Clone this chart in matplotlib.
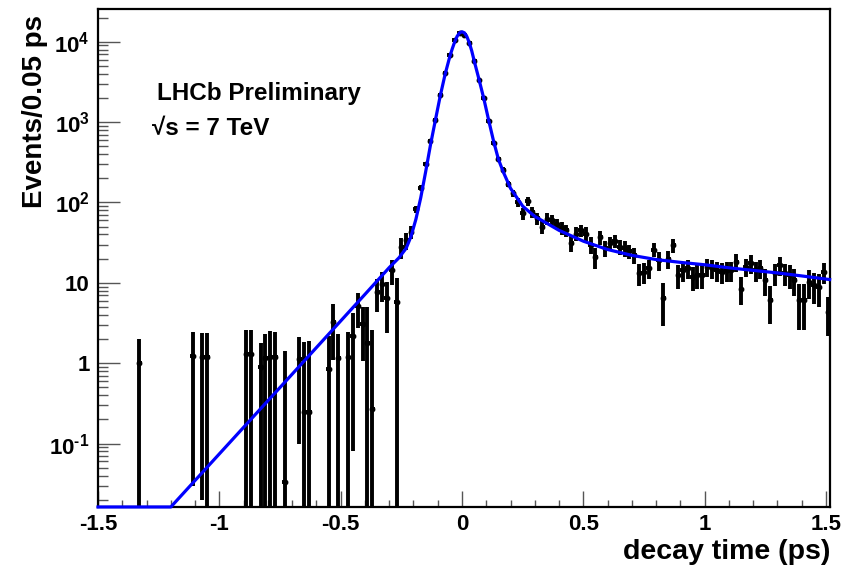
#!/usr/bin/env python3
"""
Decay time distribution with fit overlay (LHCb preliminary style)
"""

import numpy as np
import matplotlib
matplotlib.use("Agg")
import matplotlib.pyplot as plt
from matplotlib.ticker import FixedLocator, FixedFormatter, LogLocator, MultipleLocator, NullFormatter

# binned data: bin centre (ps), content, error
bin_x = [-1.33, -1.11, -1.07, -1.05, -0.89, -0.87, -0.83, -0.81, -0.79, -0.77,
         -0.73, -0.67, -0.65, -0.63, -0.55, -0.53, -0.51, -0.47, -0.45, -0.43,
         -0.41, -0.39, -0.37, -0.35, -0.33, -0.31, -0.29, -0.27, -0.25, -0.23,
         -0.21, -0.19, -0.17, -0.15, -0.13, -0.11, -0.09, -0.07, -0.05, -0.03,
         -0.01, 0.01, 0.03, 0.05, 0.07, 0.09, 0.11, 0.13, 0.15, 0.17,
         0.19, 0.21, 0.23, 0.25, 0.27, 0.29, 0.31, 0.33, 0.35, 0.37,
         0.39, 0.41, 0.43, 0.45, 0.47, 0.49, 0.51, 0.53, 0.55, 0.57,
         0.59, 0.61, 0.63, 0.65, 0.67, 0.69, 0.71, 0.73, 0.75, 0.77,
         0.79, 0.81, 0.83, 0.85, 0.87, 0.89, 0.91, 0.93, 0.95, 0.97,
         0.99, 1.01, 1.03, 1.05, 1.07, 1.09, 1.11, 1.13, 1.15, 1.17,
         1.19, 1.21, 1.23, 1.25, 1.27, 1.29, 1.31, 1.33, 1.35, 1.37,
         1.39, 1.41, 1.43, 1.45, 1.47, 1.49, 1.51]
counts = [1.0, 1.23, 1.19, 1.19, 1.3, 1.3, 0.91, 1.15, 1.19, 1.19,
          0.033, 1.12, 0.25, 0.25, 0.85, 3.3, 1.15, 1.21, 2.18, 5.15,
          3.08, 1.8, 0.27, 7.75, 9.7, 6.4, 14.5, 5.7, 28, 34,
          43, 82, 152, 300, 577, 1075, 2150, 4070, 6760, 10600,
          12800, 12200, 9600, 5690, 3370, 1990, 1030, 556, 345, 256,
          172, 130, 102, 73, 104, 77, 64, 50, 63, 60,
          54, 48, 45, 31, 41, 45, 41, 30, 21, 37,
          27, 31, 33, 28, 27, 25, 22, 13.2, 13.7, 15.1,
          26, 19.2, 6.4, 20, 29.5, 12.5, 14.4, 15.1, 11.9, 12.5,
          12.5, 15.8, 15.1, 14.4, 13.7, 14.4, 14.4, 18.3, 8.5, 15.8,
          17.5, 14.4, 15.1, 10.8, 6.1, 13.1, 16.6, 13.1, 12.5, 10.8,
          6.1, 6.1, 10.3, 9.4, 9.0, 13.7, 4.4]
errors = [1.0, 1.2, 1.17, 1.2, 1.3, 1.3, 0.9, 1.14, 1.35, 1.24,
          1.4, 1.02, 1.6, 1.63, 1.35, 2.2, 1.14, 1.26, 2.1, 2.4,
          2.0, 3.2, 2.3, 3.4, 4.0, 4.0, 5.0, 5.7, 8, 8,
          8, 9, 11, 17, 24, 33, 46, 64, 82, 103,
          113, 110, 98, 75, 58, 45, 32, 24, 19, 17,
          14, 13, 13, 13, 14, 12, 11, 10, 10, 10,
          9, 9, 8, 7, 8, 8, 8, 7, 6, 7,
          6, 6, 6, 6, 6, 5, 5, 4, 4, 4,
          5, 5, 3.5, 5, 6, 4, 4, 4, 4, 4,
          4, 4, 4, 4, 4, 4, 4, 4.5, 3.2, 4,
          4.5, 4, 4, 4, 3, 4, 4.5, 4, 4, 4,
          3.5, 3.5, 4, 4, 4, 4, 2.2]

# fitted function
fit_x = [-1.50, -1.20, -0.75, -0.40, -0.30, -0.26, -0.23, -0.21, -0.19, -0.17,
         -0.15, -0.13, -0.11, -0.09, -0.07, -0.05, -0.04, -0.03, -0.02, -0.01,
         0.00, 0.01, 0.02, 0.03, 0.04, 0.05, 0.07, 0.09, 0.11, 0.13,
         0.15, 0.17, 0.20, 0.25, 0.30, 0.35, 0.40, 0.50, 0.60, 0.70,
         0.80, 0.90, 1.00, 1.10, 1.20, 1.30, 1.40, 1.515]
fit_y = [0.0163, 0.0163, 0.50, 7.2, 15.5, 20.5, 27, 38, 62, 115,
         240, 520, 1050, 2100, 3900, 6600, 8200, 10000, 11700, 12900,
         13300, 12900, 11600, 9700, 7700, 5800, 3400, 1950, 1050, 580,
         345, 240, 150, 90, 67, 55, 45, 33, 26, 22,
         19.5, 18, 16.8, 15.4, 14.3, 13.3, 12.2, 11.0]

x_ticks = [-1.5, -1.0, -0.5, 0.0, 0.5, 1.0, 1.5]
x_tick_labels = ["-1.5", "-1", "-0.5", "0", "0.5", "1", "1.5"]
y_ticks = [0.1, 1, 10, 100, 1000, 10000]
y_tick_labels = [r"$10^{\text{-}1}$", "1", "10", r"$10^{2}$", r"$10^{3}$", r"$10^{4}$"]

YMIN, YMAX = 0.0163, 25500

plt.rcParams["font.family"] = ["Liberation Sans", "DejaVu Sans"]
plt.rcParams["font.weight"] = "bold"
plt.rcParams["axes.unicode_minus"] = False
plt.rcParams["mathtext.fontset"] = "custom"
plt.rcParams["mathtext.rm"] = "Liberation Sans:bold"
plt.rcParams["mathtext.it"] = "Liberation Sans:bold"
plt.rcParams["mathtext.bf"] = "Liberation Sans:bold"

fig = plt.figure(figsize=(8.54, 5.65), dpi=100)
ax = fig.add_axes([0.1148, 0.1027, 0.8571, 0.8813])

x = np.array(bin_x)
y = np.array(counts)
e = np.array(errors)
lower = y - np.maximum(y - e, 1e-4)

ax.errorbar(x, y, yerr=[lower, e], xerr=0.01, fmt="o", color="black",
            ms=3.2, elinewidth=2.8, capsize=0, zorder=3)

ax.plot(fit_x, fit_y, color="#0000ff", lw=2.3, zorder=4, clip_on=False)

ax.set_yscale("log")
ax.set_xlim(-1.5, 1.5165)
ax.set_ylim(YMIN, YMAX)

ax.xaxis.set_major_locator(FixedLocator(x_ticks))
ax.xaxis.set_major_formatter(FixedFormatter(x_tick_labels))
ax.xaxis.set_minor_locator(MultipleLocator(0.1))
ax.yaxis.set_major_locator(FixedLocator(y_ticks))
ax.yaxis.set_major_formatter(FixedFormatter(y_tick_labels))
ax.yaxis.set_minor_locator(LogLocator(base=10, subs=np.arange(2, 10), numticks=20))
ax.yaxis.set_minor_formatter(NullFormatter())

ax.tick_params(axis="x", which="major", direction="in", length=11.5, width=1.0,
               color="#555555", labelsize=16, pad=5)
ax.tick_params(axis="x", which="minor", direction="in", length=5.2, width=1.0, color="#555555")
ax.tick_params(axis="y", which="major", direction="in", length=15.5, width=1.0,
               color="#555555", labelsize=16, pad=6)
ax.tick_params(axis="y", which="minor", direction="in", length=7.5, width=1.0, color="#555555")
ax.tick_params(top=False, right=False, which="both")

for s in ax.spines.values():
    s.set_linewidth(1.6)

ax.set_xlabel("decay time (ps)", fontsize=20.5, fontweight="bold", loc="right", labelpad=3)
ax.set_ylabel("Events/0.05 ps", fontsize=20, fontweight="bold", loc="top")
ax.yaxis.set_label_coords(-0.068, 0.988)

ax.text(0.081, 0.831, "LHCb Preliminary", transform=ax.transAxes, fontsize=17.5,
        fontweight="bold", va="center", ha="left")
ax.text(0.074, 0.761, "\u221as = 7 TeV", transform=ax.transAxes, fontsize=17.5,
        fontweight="bold", va="center", ha="left")

fig.savefig("out.png", dpi=100)
